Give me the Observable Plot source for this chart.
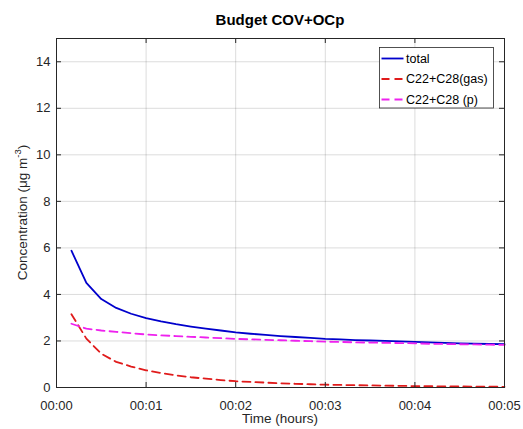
<!DOCTYPE html>
<html>
<head>
<meta charset="utf-8">
<script src="https://cdn.jsdelivr.net/npm/d3@7"></script>
<script src="https://cdn.jsdelivr.net/npm/@observablehq/plot@0.6"></script>
<style>
  html, body { margin: 0; padding: 0; background: #fff; }
  #chart svg { display: block; }
</style>
</head>
<body>
<div id="chart"></div>
<script>
// ---- data ----
const timeSec = [10,20,30,40,50,60,70,80,90,100,110,120,130,140,150,160,170,180,190,200,210,220,230,240,250,260,270,280,290,300];
const total = [5.88,4.50,3.80,3.42,3.17,2.98,2.84,2.72,2.62,2.53,2.45,2.37,2.31,2.26,2.21,2.17,2.13,2.09,2.07,2.04,2.02,2.00,1.98,1.96,1.94,1.92,1.90,1.89,1.87,1.86];
const gas = [3.15,2.10,1.45,1.10,0.90,0.74,0.62,0.52,0.44,0.38,0.32,0.27,0.24,0.21,0.18,0.16,0.14,0.12,0.11,0.10,0.09,0.08,0.07,0.06,0.055,0.05,0.045,0.04,0.035,0.03];
const particle = [2.74,2.53,2.45,2.39,2.33,2.28,2.24,2.21,2.18,2.15,2.12,2.09,2.07,2.05,2.03,2.01,1.99,1.97,1.96,1.94,1.93,1.92,1.91,1.90,1.88,1.87,1.86,1.85,1.84,1.83];
const xTicks = [0,60,120,180,240,300];
const xTickLabels = ["00:00","00:01","00:02","00:03","00:04","00:05"];
const yTicks = [0,2,4,6,8,10,12,14];
const seriesNames = ["total","C22+C28(gas)","C22+C28 (p)"];
const seriesColors = ["#0000cc","#e01b1b","#ee22ee"];
const seriesDash = [null,"8,5","8,5"];
const titleText = "Budget COV+OCp";
const xLabel = "Time (hours)";

// ---- layout ----
const W = 523, H = 429;
const mL = 56, mR = 19, mT = 38, mB = 42;
const fw = W - mL - mR, fh = H - mT - mB;
const font = "'Liberation Sans', Arial, Helvetica, sans-serif";
const ink = "#262626";
const tick = 5;

const seriesValues = [total, gas, particle];
const rows = [];
seriesValues.forEach((vals, si) => vals.forEach((v, i) => rows.push({t: timeSec[i], v, s: si})));

const lineMarks = seriesValues.map((_, si) => Plot.line(rows.filter(d => d.s === si), {
  x: "t", y: "v", stroke: seriesColors[si], strokeWidth: 1.8,
  strokeDasharray: seriesDash[si] || undefined, curve: "linear"
}));

const chart = Plot.plot({
  width: W, height: H,
  marginLeft: mL, marginRight: mR, marginTop: mT, marginBottom: mB,
  style: {fontFamily: font, background: "#fff", color: ink, overflow: "visible"},
  x: {domain: [0, 300], label: null},
  y: {domain: [0, 15], label: null},
  marks: [
    Plot.gridX(xTicks, {stroke: "#000", strokeOpacity: 0.14}),
    Plot.gridY(yTicks, {stroke: "#000", strokeOpacity: 0.14}),
    ...lineMarks,
    Plot.frame({stroke: ink, strokeWidth: 1}),
    Plot.ruleX(xTicks, {x: d => d, insetTop: fh - tick, stroke: ink}),
    Plot.ruleX(xTicks, {x: d => d, insetBottom: fh - tick, stroke: ink}),
    Plot.ruleY(yTicks, {y: d => d, insetRight: fw - tick, stroke: ink}),
    Plot.ruleY(yTicks, {y: d => d, insetLeft: fw - tick, stroke: ink}),
    Plot.axisX(xTicks, {tickSize: 0, tickPadding: 13, fontSize: 13, fill: ink,
      tickFormat: d => xTickLabels[xTicks.indexOf(d)], label: null}),
    Plot.axisY(yTicks, {tickSize: 0, tickPadding: 6, fontSize: 13, fill: ink, label: null})
  ]
});

const svg = d3.select(chart);

// title
svg.append("text")
  .attr("x", mL + fw / 2).attr("y", 25)
  .attr("text-anchor", "middle")
  .attr("font-family", font).attr("font-size", 15).attr("font-weight", "bold")
  .attr("fill", "#000").text(titleText);

// x label
svg.append("text")
  .attr("x", mL + fw / 2).attr("y", 423)
  .attr("text-anchor", "middle")
  .attr("font-family", font).attr("font-size", 13.5)
  .attr("fill", ink).text(xLabel);

// y label
const yl = svg.append("text")
  .attr("transform", `translate(27,${mT + fh / 2}) rotate(-90)`)
  .attr("text-anchor", "middle")
  .attr("font-family", font).attr("font-size", 13.5)
  .attr("fill", ink);
yl.append("tspan").text("Concentration (μg m");
yl.append("tspan").attr("font-size", 9.5).attr("dy", -6).text("-3");
yl.append("tspan").attr("dy", 6).text(")");

// legend
const lg = svg.append("g").attr("text-anchor", "start");
lg.append("rect").attr("x", 379.5).attr("y", 47.5).attr("width", 114).attr("height", 60.5)
  .attr("fill", "#fff").attr("stroke", ink).attr("stroke-width", 0.8);
seriesNames.forEach((name, i) => {
  const cy = 58.5 + i * 20.5;
  lg.append("line").attr("x1", 381.5).attr("x2", 403.5).attr("y1", cy).attr("y2", cy)
    .attr("stroke", seriesColors[i]).attr("stroke-width", 1.8)
    .attr("stroke-dasharray", seriesDash[i] || null);
  lg.append("text").attr("x", 406).attr("y", cy).attr("dy", "0.35em")
    .attr("text-anchor", "start")
    .attr("font-family", font).attr("font-size", 12.5).attr("fill", "#000").text(name);
});

document.getElementById("chart").appendChild(chart);
</script>
</body>
</html>
